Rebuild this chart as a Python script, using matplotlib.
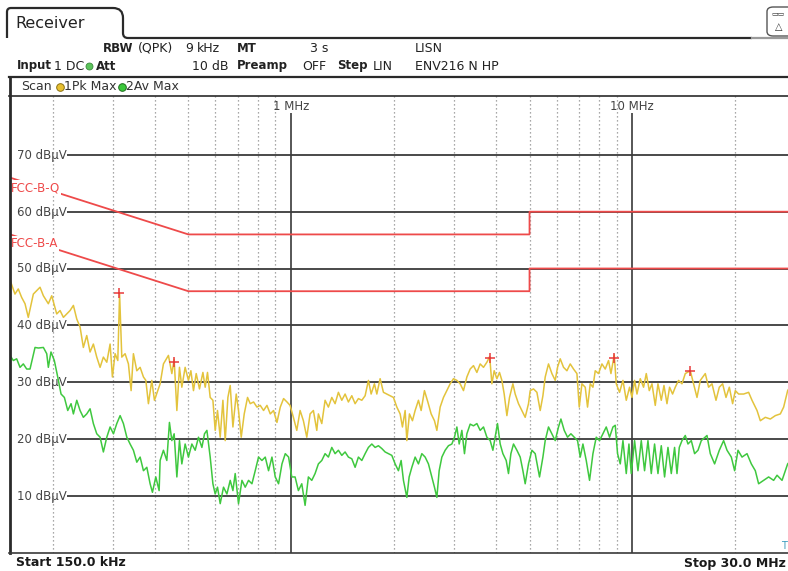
import matplotlib
matplotlib.use("Agg")
import matplotlib.pyplot as plt
from matplotlib.lines import Line2D
from matplotlib.path import Path
from matplotlib.patches import PathPatch, FancyBboxPatch

plt.rcParams['font.family'] = ['DejaVu Sans']

# --- data (frequency in MHz, level in dBuV) ---
pk_freq = [0.1500, 0.1551, 0.1586, 0.1623, 0.1660, 0.1697, 0.1756, 0.1837, 0.1879, 0.1943,
           0.1988, 0.2056, 0.2103, 0.2151, 0.2250, 0.2301, 0.2354, 0.2407, 0.2461, 0.2518,
           0.2575, 0.2633, 0.2694, 0.2755, 0.2817, 0.2883, 0.2948, 0.2994, 0.3049, 0.3105,
           0.3143, 0.3190, 0.3262, 0.3336, 0.3397, 0.3450, 0.3530, 0.3610, 0.3692, 0.3752,
           0.3818, 0.3906, 0.3976, 0.4068, 0.4132, 0.4225, 0.4370, 0.4472, 0.4542, 0.4626,
           0.4708, 0.4784, 0.4892, 0.5002, 0.5085, 0.5175, 0.5271, 0.5389, 0.5515, 0.5601,
           0.5689, 0.5793, 0.5900, 0.5992, 0.6086, 0.6198, 0.6312, 0.6411, 0.6528, 0.6631,
           0.6753, 0.6906, 0.7013, 0.7143, 0.7289, 0.7454, 0.7591, 0.7763, 0.7942, 0.8121,
           0.8305, 0.8497, 0.8689, 0.8885, 0.9091, 0.9297, 0.9507, 0.9727, 0.9933, 1.0157,
           1.0392, 1.0627, 1.0867, 1.1119, 1.1369, 1.1626, 1.1895, 1.2024, 1.2303, 1.2580,
           1.2864, 1.3163, 1.3459, 1.3763, 1.4082, 1.4400, 1.4724, 1.5066, 1.5406, 1.5753,
           1.6119, 1.6483, 1.6854, 1.7165, 1.7552, 1.7838, 1.8240, 1.8652, 1.9085, 1.9514,
           1.9955, 2.0418, 2.0877, 2.1205, 2.1593, 2.1844, 2.2232, 2.2687, 2.3102, 2.3623,
           2.4058, 2.4601, 2.5170, 2.5740, 2.6320, 2.6750, 2.7352, 2.7970, 2.8618, 2.9263,
           2.9924, 3.0618, 3.1307, 3.2015, 3.2757, 3.3494, 3.4251, 3.5045, 3.5834, 3.6644,
           3.7493, 3.8206, 3.8778, 3.9387, 4.0112, 4.0825, 4.1488, 4.2140, 4.2915, 4.3678,
           4.4689, 4.5387, 4.6410, 4.7487, 4.8557, 4.9651, 5.0227, 5.1362, 5.2553, 5.3736,
           5.4725, 5.5579, 5.6831, 5.8151, 5.9462, 6.0399, 6.1507, 6.2897, 6.4355, 6.5804,
           6.7291, 6.8851, 6.9930, 7.1211, 7.2816, 7.3963, 7.5319, 7.6705, 7.7902, 7.9657,
           8.1508, 8.3345, 8.5222, 8.6616, 8.8573, 8.9780, 9.1806, 9.3931, 9.6053, 9.8220,
           9.9813, 10.159, 10.325, 10.557, 10.796, 10.994, 11.219, 11.425, 11.682, 11.897,
           12.166, 12.390, 12.643, 12.868, 13.131, 13.371, 13.673, 13.990, 14.305, 14.798,
           15.132, 15.483, 15.831, 16.374, 16.743, 17.132, 17.601, 17.999, 18.406, 18.831,
           19.257, 19.691, 20.052, 20.504, 21.210, 21.936, 22.445, 23.217, 23.741, 24.555,
           25.399, 26.270, 27.174, 27.788, 28.549, 30.0]
pk_level = [48.0, 45.5, 46.4, 44.9, 43.8, 41.4, 45.5, 46.7, 45.2, 43.8,
            45.2, 42.0, 42.6, 41.4, 42.6, 43.5, 41.1, 39.7, 36.1, 38.2,
            35.3, 36.7, 34.4, 32.6, 34.4, 33.5, 36.7, 30.9, 35.0, 33.8,
            45.5, 34.4, 35.0, 33.2, 28.5, 35.0, 32.0, 32.6, 30.9, 30.3,
            26.2, 30.3, 26.8, 28.5, 29.7, 33.2, 34.7, 31.5, 34.0, 25.0,
            32.6, 29.1, 32.6, 30.3, 32.0, 28.5, 31.5, 28.8, 31.7, 29.1,
            31.7, 27.3, 26.8, 21.5, 25.0, 20.3, 26.8, 19.7, 27.3, 29.4,
            22.1, 27.9, 25.0, 20.3, 24.4, 27.3, 26.2, 26.5, 25.6, 25.9,
            25.0, 25.9, 24.4, 25.0, 22.9, 25.6, 27.1, 26.5, 25.9, 23.8,
            21.5, 25.0, 23.2, 20.3, 24.4, 25.0, 21.5, 24.4, 22.7, 26.8,
            25.6, 27.3, 26.2, 28.2, 26.8, 27.9, 26.5, 27.6, 26.2, 27.1,
            26.8, 27.6, 30.3, 27.9, 29.7, 27.9, 30.6, 28.2, 27.9, 27.6,
            27.3, 25.6, 24.4, 22.1, 25.0, 19.7, 24.4, 23.2, 25.0, 26.8,
            25.0, 28.5, 26.5, 24.4, 23.2, 21.5, 25.6, 27.3, 28.5, 29.7,
            30.6, 30.3, 29.7, 28.5, 30.9, 32.3, 32.9, 31.7, 33.2, 32.6,
            33.5, 34.5, 29.7, 32.0, 30.6, 31.7, 30.3, 27.9, 24.1, 27.3,
            29.7, 27.9, 26.2, 25.0, 23.8, 26.2, 28.5, 28.8, 28.2, 25.0,
            27.6, 30.9, 33.2, 31.5, 30.3, 32.6, 34.1, 32.6, 32.0, 33.2,
            32.3, 31.5, 25.6, 29.7, 29.1, 25.6, 29.7, 29.1, 32.0, 31.5,
            33.2, 32.3, 33.8, 31.5, 34.8, 29.7, 28.2, 30.3, 26.8, 29.1,
            27.3, 30.3, 27.9, 30.6, 29.1, 31.5, 28.5, 29.7, 25.9, 29.7,
            26.8, 29.4, 26.2, 29.1, 27.9, 29.1, 30.3, 29.7, 31.5, 32.0,
            29.7, 27.3, 30.3, 31.5, 29.1, 29.7, 26.8, 29.1, 29.7, 27.3,
            29.1, 26.2, 28.5, 27.9, 27.9, 28.2, 26.8, 25.0, 23.2, 23.8,
            23.5, 24.1, 24.4, 25.6, 28.5, 30.5]

av_freq = [0.1500, 0.1534, 0.1569, 0.1605, 0.1641, 0.1679, 0.1717, 0.1776, 0.1816, 0.1879,
           0.1922, 0.1943, 0.1978, 0.2023, 0.2070, 0.2117, 0.2165, 0.2215, 0.2265, 0.2301,
           0.2354, 0.2407, 0.2461, 0.2518, 0.2575, 0.2633, 0.2694, 0.2755, 0.2817, 0.2883,
           0.2948, 0.3015, 0.3084, 0.3154, 0.3225, 0.3300, 0.3374, 0.3450, 0.3530, 0.3610,
           0.3692, 0.3777, 0.3862, 0.3923, 0.4013, 0.4104, 0.4132, 0.4225, 0.4323, 0.4400,
           0.4472, 0.4542, 0.4626, 0.4708, 0.4784, 0.4892, 0.5002, 0.5119, 0.5235, 0.5353,
           0.5477, 0.5575, 0.5666, 0.5793, 0.5900, 0.5992, 0.6086, 0.6198, 0.6338, 0.6485,
           0.6631, 0.6753, 0.6858, 0.7013, 0.7177, 0.7338, 0.7504, 0.7678, 0.7851, 0.8028,
           0.8214, 0.8400, 0.8589, 0.8789, 0.8987, 0.9189, 0.9404, 0.9616, 0.9833, 1.0047,
           1.0274, 1.0506, 1.0749, 1.0992, 1.1239, 1.1500, 1.1759, 1.2024, 1.2303, 1.2580,
           1.2864, 1.3163, 1.3459, 1.3763, 1.4082, 1.4400, 1.4724, 1.5066, 1.5406, 1.5753,
           1.6119, 1.6483, 1.6854, 1.7245, 1.7634, 1.8031, 1.8450, 1.8866, 1.9291, 1.9738,
           2.0183, 2.0638, 2.1019, 2.1349, 2.1844, 2.2186, 2.2593, 2.3102, 2.3623, 2.4171,
           2.4716, 2.5272, 2.5860, 2.6320, 2.6750, 2.7169, 2.7667, 2.8290, 2.8928, 2.9600,
           3.0126, 3.0618, 3.1098, 3.1667, 3.2231, 3.2757, 3.3494, 3.4251, 3.5045, 3.5834,
           3.6644, 3.7493, 3.8337, 3.9042, 3.9652, 4.0277, 4.1016, 4.1771, 4.2714, 4.3379,
           4.4088, 4.4874, 4.5914, 4.6947, 4.7811, 4.8557, 4.9651, 5.0805, 5.1950, 5.3487,
           5.4725, 5.5579, 5.6831, 5.8151, 5.9462, 6.0801, 6.1796, 6.3192, 6.4619, 6.6113,
           6.7607, 6.9134, 7.0401, 7.1696, 7.3316, 7.4970, 7.6705, 7.8437, 8.0207, 8.2064,
           8.3917, 8.5811, 8.7797, 8.9168, 9.0573, 9.2234, 9.3931, 9.6053, 9.7805, 9.9349,
           10.159, 10.394, 10.629, 10.868, 11.120, 11.372, 11.628, 11.897, 12.166, 12.440,
           12.728, 13.016, 13.309, 13.527, 13.739, 13.990, 14.305, 14.568, 14.899, 15.235,
           15.587, 15.939, 16.564, 16.937, 17.437, 17.999, 18.531, 18.960, 19.519, 19.959,
           20.420, 20.980, 21.701, 22.341, 22.951, 23.468, 24.278, 25.109, 25.973, 26.575,
           27.487, 28.549, 30.0]
av_level = [34.7, 33.8, 34.1, 32.6, 33.2, 32.3, 32.3, 36.1, 36.0, 36.1,
            35.0, 32.6, 35.3, 33.8, 30.9, 27.9, 27.3, 25.0, 26.2, 24.4,
            26.8, 25.0, 23.8, 24.4, 25.3, 22.7, 20.9, 20.3, 17.7, 20.3,
            22.1, 20.9, 22.7, 24.1, 22.7, 20.3, 19.1, 18.0, 15.9, 16.8,
            14.4, 15.0, 12.1, 10.6, 13.3, 10.9, 16.2, 18.0, 16.2, 22.9,
            19.7, 20.9, 13.3, 19.7, 15.6, 19.1, 16.8, 19.1, 18.0, 20.3,
            18.5, 20.9, 21.5, 16.8, 12.1, 10.3, 11.5, 8.6, 11.5, 10.3,
            12.7, 10.9, 13.9, 8.6, 12.7, 11.5, 12.7, 12.1, 14.4, 16.8,
            16.2, 16.8, 14.4, 16.8, 13.3, 12.1, 15.6, 17.4, 16.8, 13.3,
            13.3, 10.9, 12.1, 8.3, 13.3, 12.7, 13.9, 15.6, 16.2, 17.4,
            16.8, 18.5, 17.4, 18.0, 17.1, 17.7, 16.8, 16.5, 15.0, 16.8,
            16.2, 17.4, 18.5, 19.1, 18.5, 18.8, 18.3, 17.7, 17.4, 17.1,
            15.6, 14.4, 16.2, 12.7, 9.7, 13.3, 15.0, 16.8, 15.6, 17.4,
            16.8, 15.6, 13.3, 11.5, 9.7, 14.4, 16.8, 18.0, 18.8, 19.1,
            20.3, 22.1, 19.1, 21.5, 17.4, 20.9, 22.6, 22.3, 22.7, 21.5,
            22.1, 20.3, 19.7, 18.0, 20.3, 22.7, 19.1, 17.4, 16.2, 13.9,
            17.4, 19.1, 18.0, 16.8, 14.4, 12.1, 15.6, 18.0, 17.4, 13.3,
            16.8, 19.7, 22.1, 20.9, 19.7, 22.1, 23.5, 21.5, 20.3, 20.9,
            20.3, 19.7, 16.8, 19.1, 16.2, 12.7, 17.4, 20.3, 19.7, 20.9,
            22.1, 20.3, 22.1, 22.4, 17.4, 15.6, 19.7, 13.9, 19.1, 13.9,
            19.7, 14.4, 19.7, 14.4, 19.7, 13.9, 19.1, 13.9, 18.8, 13.3,
            18.5, 13.9, 18.5, 13.9, 18.5, 19.7, 20.6, 19.1, 19.7, 17.4,
            18.0, 19.7, 20.6, 17.4, 15.6, 18.0, 19.7, 18.0, 16.8, 14.4,
            18.0, 16.8, 17.4, 15.6, 14.4, 12.1, 12.7, 13.3, 12.7, 13.6,
            12.7, 15.6, 17.0]

peak_freq = [0.3133, 0.4542, 3.8337, 8.8573, 14.798]
peak_level = [45.6, 33.6, 34.3, 34.3, 32.0]

limit_freq = [0.15, 0.5, 5.0, 5.0, 30.0]
limit_qp = [66, 56, 56, 60, 60]
limit_av = [56, 46, 46, 50, 50]

grid_levels = [10, 20, 30, 40, 50, 60, 70]
minor_freqs = [0.2, 0.3, 0.4, 0.5, 0.6, 0.7, 0.8, 0.9,
               2, 3, 4, 5, 6, 7, 8, 9, 20]
major_freqs = [1, 10]
major_labels = ['1 MHz', '10 MHz']

assert len(pk_freq) == len(pk_level)
assert len(av_freq) == len(av_level)

W, H = 788, 571
fig = plt.figure(figsize=(W / 100, H / 100), dpi=100)
fig.patch.set_facecolor('white')


def fx(x):
    return x / W


def fy(y):
    return 1 - y / H


def fline(xs, ys, **kw):
    fig.add_artist(Line2D([fx(v) for v in xs], [fy(v) for v in ys],
                          transform=fig.transFigure, **kw))


def ftext(x, y, s, **kw):
    kw.setdefault('fontsize', 9)
    kw.setdefault('color', '#222222')
    kw.setdefault('va', 'center')
    fig.text(fx(x), fy(y), s, **kw)


# --- header: tab, settings rows, scan bar ---
tab = Path([(fx(7), fy(38)), (fx(7), fy(12)), (fx(7), fy(8)), (fx(11), fy(8)),
            (fx(113), fy(8)), (fx(123), fy(8)), (fx(123), fy(18)),
            (fx(123), fy(33)), (fx(123), fy(38)), (fx(128), fy(38)),
            (fx(752), fy(38))],
           [Path.MOVETO, Path.LINETO, Path.CURVE3, Path.CURVE3,
            Path.LINETO, Path.CURVE3, Path.CURVE3,
            Path.LINETO, Path.CURVE3, Path.CURVE3, Path.LINETO])
fig.add_artist(PathPatch(tab, transform=fig.transFigure, fill=False,
                         edgecolor='#2a2a2a', lw=1.6))
fline([752, 788], [38, 38], color='#9a9a9a', lw=1.6)
ftext(15, 24, 'Receiver', fontsize=11.5)

fig.add_artist(FancyBboxPatch((fx(767), fy(36)), fx(30), 29 / H,
                              boxstyle='round,pad=0,rounding_size=0.008',
                              transform=fig.transFigure, facecolor='white',
                              edgecolor='#555555', lw=1.0))
ftext(771, 13, '\u25ad\u25ad', fontsize=5, color='#333333')
ftext(775, 27, '\u25b3', fontsize=7, color='#333333')

ftext(103, 48, 'RBW', fontweight='bold', fontsize=8.5)
ftext(138, 48, '(QPK)')
ftext(185, 48, '9')
ftext(197, 48, 'kHz')
ftext(237, 48, 'MT', fontweight='bold', fontsize=8.5)
ftext(310, 48, '3 s')
ftext(415, 48, 'LISN')

ftext(17, 66, 'Input', fontweight='bold', fontsize=8.5)
ftext(54, 66, '1 DC')
fig.add_artist(Line2D([fx(89)], [fy(66)], marker='o', ms=5, mfc='#5cc45c',
                      mec='#3a8a3a', mew=0.6, transform=fig.transFigure))
ftext(96, 66, 'Att', fontweight='bold', fontsize=8.5)
ftext(192, 66, '10 dB')
ftext(237, 66, 'Preamp', fontweight='bold', fontsize=8.5)
ftext(302, 66, 'OFF')
ftext(337, 66, 'Step', fontweight='bold', fontsize=8.5)
ftext(373, 66, 'LIN')
ftext(415, 66, 'ENV216 N HP')

fline([9, 788], [77, 77], color='#2a2a2a', lw=1.6)
fline([9, 788], [95.5, 95.5], color='#2a2a2a', lw=1.2)
fline([9.5, 9.5], [77, 553], color='#2a2a2a', lw=2.0)

ftext(21, 87, 'Scan', color='#333333')
fig.add_artist(Line2D([fx(60)], [fy(87)], marker='o', ms=5.5, mfc='#e8c030',
                      mec='#8a7010', mew=0.7, transform=fig.transFigure))
ftext(64, 87, '1Pk Max', color='#333333')
fig.add_artist(Line2D([fx(121.5)], [fy(87)], marker='o', ms=5.5, mfc='#3cc83c',
                      mec='#1f6f1f', mew=0.7, transform=fig.transFigure))
ftext(126, 87, '2Av Max', color='#333333')

# --- diagram ---
ax = fig.add_axes([fx(10), 1 - 552.5 / H, (795 - 10) / W, (552.5 - 96) / H])
ax.set_xscale('log')
ax.set_xlim(0.15, 30)
ax.set_ylim(0, (552.5 - 96) / 5.68)
ax.axis('off')

for f in minor_freqs:
    ax.axvline(f, color='#8c8c8c', lw=0.9, ls=(0, (1, 2.2)), zorder=1)
ax.vlines(major_freqs, 0, 77.4, color='#3a3a3a', lw=1.2, zorder=2)
for f, lab in zip(major_freqs, major_labels):
    ax.text(f, 77.9, lab, ha='center', va='baseline', fontsize=8.5, color='#444444')

ax.hlines(grid_levels, 0.2204, 30, color='#3a3a3a', lw=1.3, zorder=2)
for lvl in grid_levels:
    ax.text(0.2195, lvl - 0.7, f'{lvl} dB\u00b5V', ha='right', va='baseline',
            fontsize=8.5, color='#444444')

ax.plot(pk_freq, pk_level, color='#e3c33c', lw=1.1, zorder=3)
ax.plot(av_freq, av_level, color='#3fc83f', lw=1.1, zorder=3)

ax.plot(limit_freq, limit_qp, color='#ee4a4a', lw=1.3, zorder=4)
ax.plot(limit_freq, limit_av, color='#ee4a4a', lw=1.3, zorder=4)
ax.text(0.1505, 63.6, 'FCC-B-Q', ha='left', va='baseline', fontsize=8.5,
        color='#ee4a4a', zorder=5,
        bbox=dict(facecolor='white', edgecolor='none', pad=0.6))
ax.text(0.1505, 53.8, 'FCC-B-A', ha='left', va='baseline', fontsize=8.5,
        color='#ee4a4a', zorder=5,
        bbox=dict(facecolor='white', edgecolor='none', pad=0.6))

ax.plot(peak_freq, peak_level, ls='none', marker='+', ms=7, mew=1.1,
        color='#e83a3a', zorder=6)

# --- footer ---
fline([9, 788], [553, 553], color='#3a3a3a', lw=1.2)
ftext(781, 546, 'T', fontsize=7, color='#3a9bbd')
ftext(16, 563, 'Start 150.0 kHz', fontweight='bold', color='#1a1a1a')
ftext(786, 563, 'Stop 30.0 MHz', fontweight='bold', color='#1a1a1a', ha='right')

fig.savefig('out.png', dpi=100)
